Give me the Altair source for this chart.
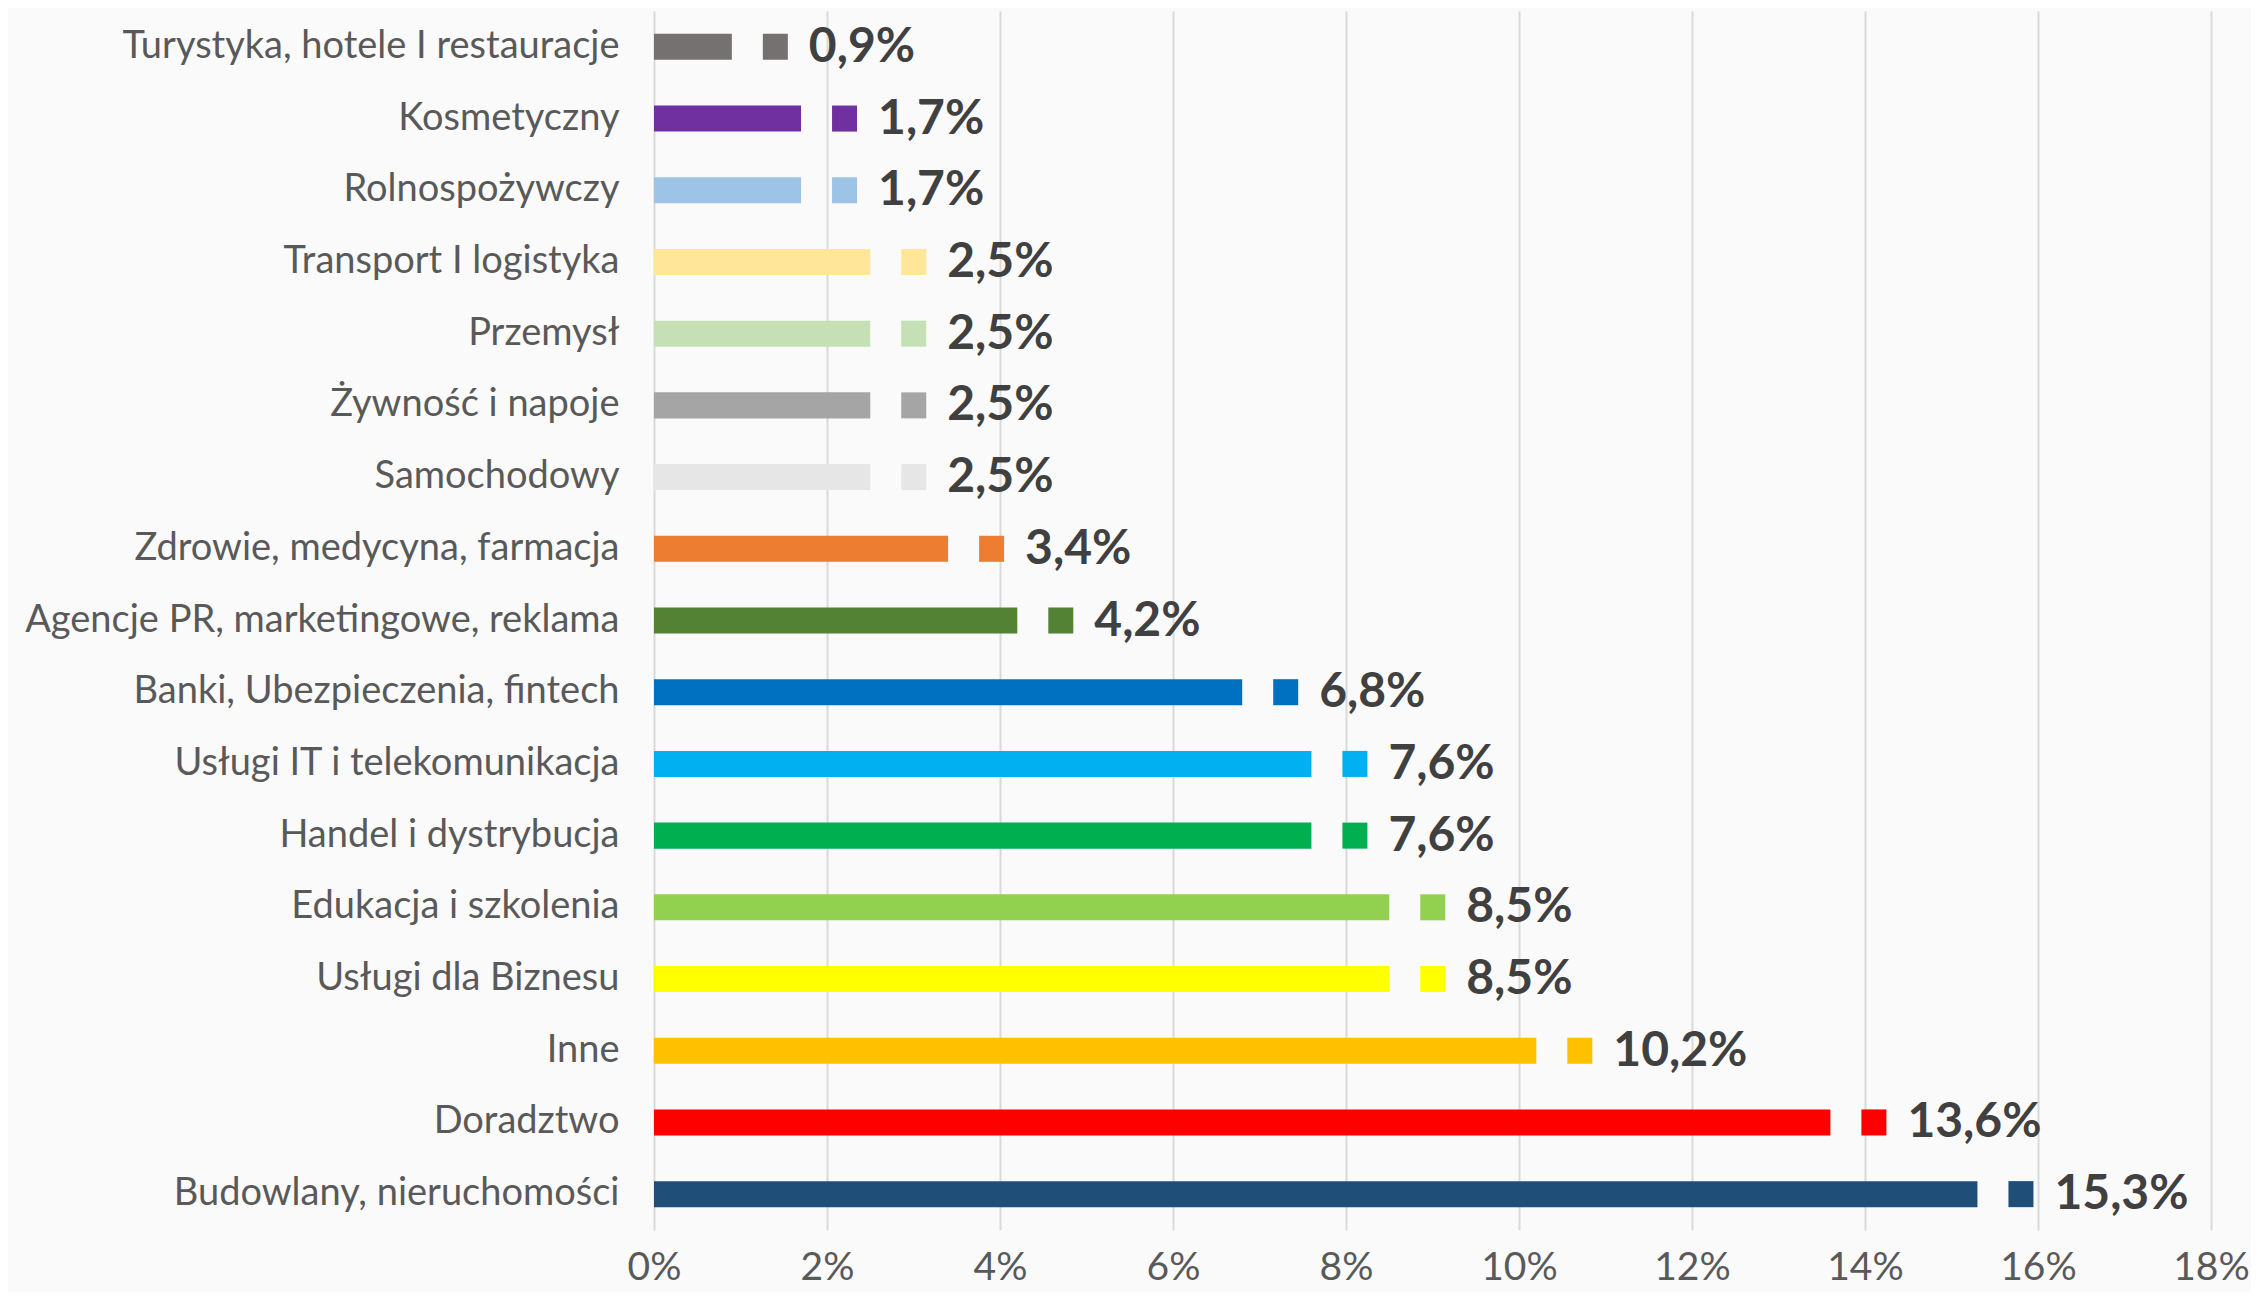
import altair as alt
import pandas as pd

categories = [
    "Turystyka, hotele I restauracje",
    "Kosmetyczny",
    "Rolnospożywczy",
    "Transport I logistyka",
    "Przemysł",
    "Żywność i napoje",
    "Samochodowy",
    "Zdrowie, medycyna, farmacja",
    "Agencje PR, marketingowe, reklama",
    "Banki, Ubezpieczenia, fintech",
    "Usługi IT i telekomunikacja",
    "Handel i dystrybucja",
    "Edukacja i szkolenia",
    "Usługi dla Biznesu",
    "Inne",
    "Doradztwo",
    "Budowlany, nieruchomości",
]
values = [0.9, 1.7, 1.7, 2.5, 2.5, 2.5, 2.5, 3.4, 4.2, 6.8, 7.6, 7.6, 8.5, 8.5, 10.2, 13.6, 15.3]
colors = [
    "#767171", "#7030A0", "#9DC3E6", "#FFE699", "#C5E0B4", "#A5A5A5", "#E7E6E6",
    "#ED7D31", "#548235", "#0070C0", "#00B0F0", "#00B050", "#92D050", "#FFFF00",
    "#FFC000", "#FF0000", "#1F4E79",
]
tick_values = [0, 2, 4, 6, 8, 10, 12, 14, 16, 18]

df = pd.DataFrame({"cat": categories, "val": values})
df["label"] = [f"{v:.1f}".replace(".", ",") + "%" for v in values]

FONT = "Lato"

y_enc = alt.Y(
    "cat:N",
    sort=categories,
    title=None,
    scale=alt.Scale(paddingInner=0.637, paddingOuter=0.3185),
    axis=alt.Axis(
        domain=False, ticks=False, grid=False, labelPadding=35,
        labelFontSize=38, labelFont=FONT, labelColor="#595959", labelLimit=800,
    ),
)
x_enc = alt.X(
    "val:Q",
    title=None,
    scale=alt.Scale(domain=[0, 18], nice=False, zero=True),
    axis=alt.Axis(
        values=tick_values, labelExpr="datum.value + '%'", domain=False, ticks=False,
        grid=True, gridColor="#D9D9D9", gridWidth=2, labelFontSize=39, labelFont=FONT,
        labelColor="#595959", labelPadding=18, labelFlush=False, labelOverlap=False,
    ),
)
color_enc = alt.Color(
    "cat:N", scale=alt.Scale(domain=categories, range=colors), legend=None
)

bars = alt.Chart(df).mark_bar().encode(y=y_enc, x=x_enc, color=color_enc)

keys = alt.Chart(df).mark_rect(xOffset=31, x2Offset=56).encode(
    y=alt.Y("cat:N", sort=categories),
    x="val:Q",
    x2="val:Q",
    color=color_enc,
)

labels = alt.Chart(df).mark_text(
    align="left", baseline="middle", dx=77, dy=1, font=FONT, fontSize=48,
    fontWeight="bold", color="#404040",
).encode(y=alt.Y("cat:N", sort=categories), x="val:Q", text="label:N")

chart = (
    alt.layer(bars, keys, labels)
    .properties(
        width=1557,
        height=1219,
        autosize=alt.AutoSizeParams(type="none"),
        padding={"left": 646, "top": 3, "right": 40, "bottom": 62},
        background="#FAFAFA",
    )
    .configure_view(stroke=None)
)

chart.save("out.html", embed_options={"renderer": "svg", "actions": False})
